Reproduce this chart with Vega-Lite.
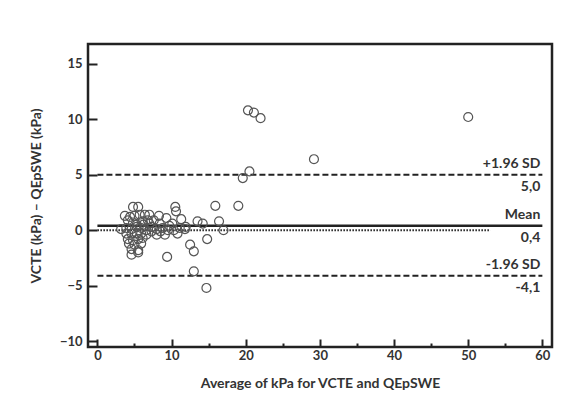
{
  "$schema": "https://vega.github.io/schema/vega-lite/v6.json",
  "width": 464,
  "height": 303,
  "autosize": {"type": "none"},
  "padding": {"left": 88, "top": 44, "right": 30, "bottom": 67},
  "background": "white",
  "config": {
    "view": {"stroke": "#222", "strokeWidth": 2.5},
    "font": "Lato",
    "axis": {"grid": false, "domain": false, "tickColor": "#222", "tickWidth": 2, "labelFont": "Lato", "labelFontWeight": "bold", "labelFontSize": 13, "labelColor": "#333", "titleFont": "Lato", "titleFontWeight": "bold", "titleFontSize": 14, "titleColor": "#333"}
  },
  "datasets": {
    "points": [
      {"avg": 20.3, "diff": 10.8}, {"avg": 21.1, "diff": 10.6}, {"avg": 22.0, "diff": 10.1}, {"avg": 50.0, "diff": 10.2},
      {"avg": 29.2, "diff": 6.4}, {"avg": 20.5, "diff": 5.3}, {"avg": 19.6, "diff": 4.7}, {"avg": 19.0, "diff": 2.2},
      {"avg": 15.9, "diff": 2.2}, {"avg": 16.4, "diff": 0.8}, {"avg": 17.0, "diff": 0.0}, {"avg": 14.8, "diff": -0.8},
      {"avg": 12.5, "diff": -1.3}, {"avg": 13.0, "diff": -1.9}, {"avg": 13.0, "diff": -3.7}, {"avg": 14.7, "diff": -5.2},
      {"avg": 9.4, "diff": -2.4}, {"avg": 14.2, "diff": 0.6}, {"avg": 13.5, "diff": 0.8}, {"avg": 10.5, "diff": 2.1},
      {"avg": 10.6, "diff": 1.7}, {"avg": 11.3, "diff": 1.0}, {"avg": 11.8, "diff": 0.1}, {"avg": 10.1, "diff": 0.6},
      {"avg": 10.3, "diff": 0.0}, {"avg": 11.1, "diff": 0.2}, {"avg": 11.9, "diff": 0.3}, {"avg": 10.8, "diff": -0.3},
      {"avg": 4.8, "diff": 2.1}, {"avg": 5.5, "diff": 2.1}, {"avg": 3.7, "diff": 1.3}, {"avg": 4.4, "diff": 1.2},
      {"avg": 5.0, "diff": 1.3}, {"avg": 5.7, "diff": 1.4}, {"avg": 6.4, "diff": 1.4}, {"avg": 7.0, "diff": 1.4},
      {"avg": 8.3, "diff": 1.3}, {"avg": 9.3, "diff": 1.1}, {"avg": 4.1, "diff": 0.9}, {"avg": 4.8, "diff": 0.7},
      {"avg": 6.1, "diff": 0.8}, {"avg": 6.8, "diff": 0.9}, {"avg": 7.6, "diff": 0.9}, {"avg": 8.4, "diff": 0.6},
      {"avg": 9.7, "diff": 0.4}, {"avg": 5.3, "diff": 0.5}, {"avg": 7.0, "diff": 0.6}, {"avg": 3.2, "diff": 0.1},
      {"avg": 3.9, "diff": 0.2}, {"avg": 4.6, "diff": 0.1}, {"avg": 5.3, "diff": 0.3}, {"avg": 5.9, "diff": 0.2},
      {"avg": 6.6, "diff": 0.0}, {"avg": 7.3, "diff": 0.3}, {"avg": 8.0, "diff": 0.1}, {"avg": 8.8, "diff": 0.2},
      {"avg": 9.5, "diff": 0.0}, {"avg": 3.9, "diff": -0.3}, {"avg": 4.6, "diff": -0.3}, {"avg": 5.3, "diff": -0.3},
      {"avg": 5.9, "diff": -0.3}, {"avg": 6.6, "diff": -0.4}, {"avg": 8.0, "diff": -0.4}, {"avg": 9.1, "diff": -0.4},
      {"avg": 4.1, "diff": -0.8}, {"avg": 4.8, "diff": -0.9}, {"avg": 5.5, "diff": -0.8}, {"avg": 6.1, "diff": -0.7},
      {"avg": 4.25, "diff": -1.2}, {"avg": 5.0, "diff": -1.3}, {"avg": 5.9, "diff": -1.2}, {"avg": 4.6, "diff": -1.7},
      {"avg": 5.5, "diff": -1.8}, {"avg": 4.6, "diff": -2.2}, {"avg": 5.5, "diff": -2.0}, {"avg": 7.3, "diff": -0.1},
      {"avg": 8.5, "diff": -0.1}, {"avg": 6.2, "diff": 0.5}
    ],
    "labels": [
      {"x": 60, "y": 5.0, "above": "+1.96 SD", "below": "5,0"},
      {"x": 60, "y": 0.4, "above": "Mean", "below": "0,4"},
      {"x": 60, "y": -4.1, "above": "-1.96 SD", "below": "-4,1"}
    ]
  },
  "resolve": {"axis": {"x": "independent", "y": "independent"}},
  "layer": [
    {
      "data": {"values": [{"y": 5.0}, {"y": -4.1}]},
      "mark": {"type": "rule", "color": "#222", "strokeWidth": 2, "strokeDash": [6, 3]},
      "encoding": {
        "x": {"datum": 0, "type": "quantitative", "scale": {"domain": [-1.27, 61.3], "nice": false, "zero": false}, "axis": null},
        "x2": {"datum": 60},
        "y": {"field": "y", "type": "quantitative", "scale": {"domain": [-10.52, 16.78], "nice": false, "zero": false}, "axis": null}
      }
    },
    {
      "data": {"values": [{"y": 0.4}]},
      "mark": {"type": "rule", "color": "#222", "strokeWidth": 2.5},
      "encoding": {
        "x": {"datum": 0, "type": "quantitative", "axis": null},
        "x2": {"datum": 60},
        "y": {"field": "y", "type": "quantitative", "axis": null}
      }
    },
    {
      "data": {"values": [{"y": 0}]},
      "mark": {"type": "rule", "color": "#222", "strokeWidth": 2, "strokeDash": [1.5, 1.5]},
      "encoding": {
        "x": {"datum": 0, "type": "quantitative", "axis": null},
        "x2": {"datum": 53},
        "y": {"field": "y", "type": "quantitative", "axis": null}
      }
    },
    {
      "data": {"name": "points"},
      "mark": {"type": "point", "shape": "circle", "filled": false, "size": 80, "color": "#555", "strokeWidth": 1.2, "opacity": 1},
      "encoding": {
        "x": {"field": "avg", "type": "quantitative", "axis": {"title": "Average of kPa for VCTE and QEpSWE", "values": [0, 10, 20, 30, 40, 50, 60], "tickSize": -8, "labelPadding": 10, "titlePadding": 14}},
        "y": {"field": "diff", "type": "quantitative", "axis": {"title": "VCTE (kPa) – QEpSWE (kPa)", "values": [-10, -5, 0, 5, 10, 15], "tickSize": -9, "labelPadding": 15, "titlePadding": 16}}
      }
    },
    {
      "data": {"name": "labels"},
      "mark": {"type": "text", "align": "right", "baseline": "bottom", "dy": -4, "dx": -2, "font": "Lato", "fontWeight": "bold", "fontSize": 14, "color": "#333"},
      "encoding": {
        "x": {"field": "x", "type": "quantitative", "axis": {"title": null, "values": [5, 15, 25, 35, 45, 55], "labels": false, "tickSize": -4, "orient": "bottom"}},
        "y": {"field": "y", "type": "quantitative", "axis": null},
        "text": {"field": "above"}
      }
    },
    {
      "data": {"name": "labels"},
      "mark": {"type": "text", "align": "right", "baseline": "top", "dy": 5, "dx": -2, "font": "Lato", "fontWeight": "bold", "fontSize": 14, "color": "#333"},
      "encoding": {
        "x": {"field": "x", "type": "quantitative", "axis": null},
        "y": {"field": "y", "type": "quantitative", "axis": null},
        "text": {"field": "below"}
      }
    }
  ]
}
